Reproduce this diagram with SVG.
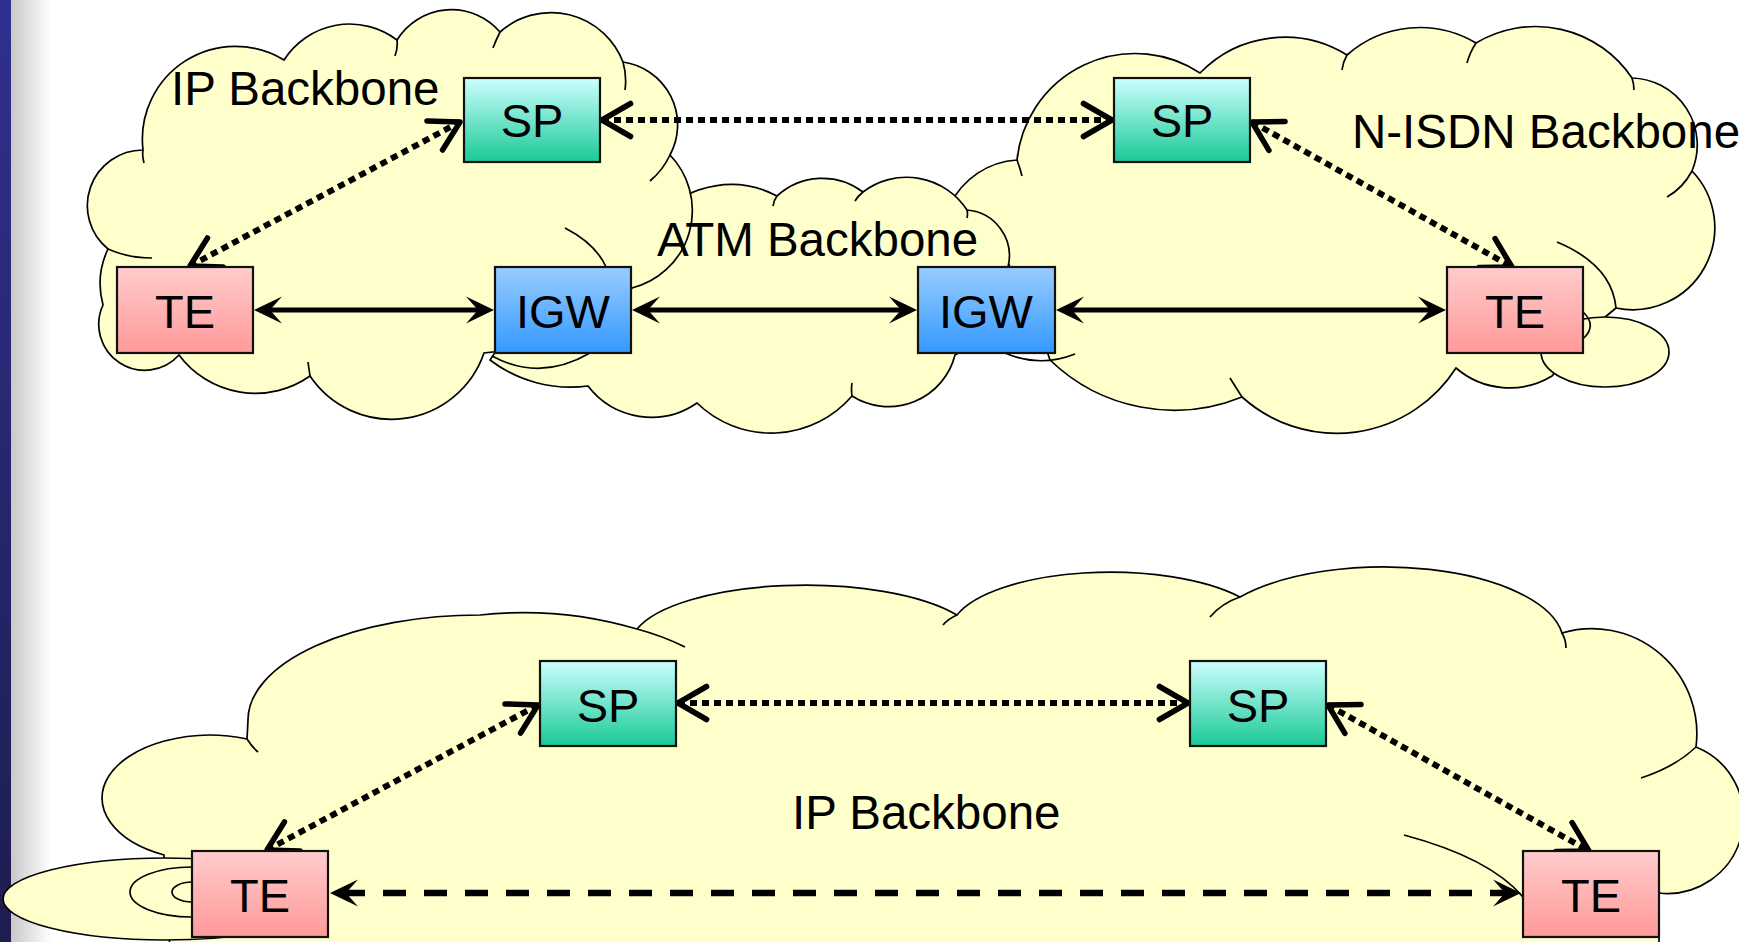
<svg xmlns="http://www.w3.org/2000/svg" width="1739" height="942" viewBox="0 0 1739 942">
<defs>
<linearGradient id="gSP" x1="0" y1="0" x2="0" y2="1"><stop offset="0" stop-color="#ccffff"/><stop offset="1" stop-color="#19c996"/></linearGradient>
<linearGradient id="gTE" x1="0" y1="0" x2="0" y2="1"><stop offset="0" stop-color="#ffcccc"/><stop offset="1" stop-color="#ff9999"/></linearGradient>
<linearGradient id="gIGW" x1="0" y1="0" x2="0" y2="1"><stop offset="0" stop-color="#99ccff"/><stop offset="1" stop-color="#3399ff"/></linearGradient>
<linearGradient id="gBar" x1="0" y1="0" x2="0" y2="1"><stop offset="0" stop-color="#30308f"/><stop offset="1" stop-color="#1d1d4f"/></linearGradient>
<linearGradient id="gShade" x1="0" y1="0" x2="1" y2="0"><stop offset="0" stop-color="#c8c8c8"/><stop offset="1" stop-color="#ffffff"/></linearGradient>
<marker id="open" viewBox="-36 -22 42 44" markerWidth="42" markerHeight="44" refX="0" refY="0" orient="auto-start-reverse" markerUnits="userSpaceOnUse"><path d="M -28.6 -16.5 L 0 0 L -28.6 16.5" fill="none" stroke="#000" stroke-width="5.5" stroke-linecap="round" stroke-linejoin="round"/></marker>
<marker id="solid" viewBox="-42 -15 44 30" markerWidth="44" markerHeight="30" refX="-12" refY="0" orient="auto-start-reverse" markerUnits="userSpaceOnUse"><path d="M 0 0 L -28 -13.5 L -16 0 L -28 13.5 Z" fill="#000"/></marker>
</defs>
<style>
.cloud{fill:#ffffcc;stroke:#000;stroke-width:1.7}
.tail{fill:none;stroke:#000;stroke-width:1.7}
.box{stroke:#111;stroke-width:2.2}
.lbl{font-family:"Liberation Sans",Arial,sans-serif;font-size:47px;fill:#000;text-anchor:middle}
.title{font-family:"Liberation Sans",Arial,sans-serif;font-size:47.5px;fill:#000}
.dot{fill:none;stroke:#000;stroke-width:6;stroke-dasharray:7 5;marker-start:url(#open);marker-end:url(#open)}
.sol{fill:none;stroke:#000;stroke-width:5;marker-start:url(#solid);marker-end:url(#solid)}
.dash{fill:none;stroke:#000;stroke-width:6.5;stroke-dasharray:23 18;marker-start:url(#solid);marker-end:url(#solid)}
</style>
<rect x="0" y="0" width="1739" height="942" fill="#ffffff"/>
<rect x="0" y="0" width="11" height="942" fill="url(#gBar)"/>
<rect x="11" y="0" width="40" height="942" fill="url(#gShade)"/>

<g id="cloud-nisdn">
<path class="cloud" d="M 950 205 A 79.5 79.5 0 0 1 1017 160 A 118.5 118.5 0 0 1 1200 73 A 118 118 0 0 1 1347 55 A 110 110 0 0 1 1476 43 A 116 116 0 0 1 1632 78 A 67 67 0 0 1 1692 171 A 82 82 0 0 1 1616 308 L 1604 318 L 1580 340 L 1552 376 A 82 82 0 0 1 1456 368 A 141.6 141.6 0 0 1 1242 397 A 179 179 0 0 1 1050 360 L 1030 300 L 985 225 Z"/>
<path class="tail" d="M 1017 160 Q 1020 168 1022 176 M 1347 55 Q 1343 62 1342 70 M 1476 43 Q 1470 52 1467 63 M 1632 78 Q 1634 84 1634 90 M 1692 171 Q 1683 188 1667 197 M 1616 308 Q 1612 265 1557 242 M 1242 397 Q 1235 386 1230 378 M 1005 353 Q 1040 368 1075 354"/>
<ellipse class="cloud" cx="1605" cy="352" rx="64" ry="35"/>
<path class="tail" d="M 1583 312 Q 1597 325 1584 338"/>
</g>

<g id="cloud-atm">
<path class="cloud" d="M 660 215 A 98 98 0 0 1 777 196 A 67 67 0 0 1 863 192 A 72 72 0 0 1 967 210 A 46 46 0 0 1 1008 267 L 1000 330 L 955 355 A 68.5 68.5 0 0 1 852 396 A 106.5 106.5 0 0 1 697 403 A 80 80 0 0 1 588 386 A 133 133 0 0 1 490 360 L 500 345 L 560 300 L 640 260 Z"/>
<path class="tail" d="M 777 196 Q 774 200 773 206 M 863 192 Q 858 196 855 201 M 967 210 Q 968 214 967 218 M 852 396 Q 851 389 852 383 M 492 356 Q 540 382 590 353"/>
</g>

<g id="cloud-ip-top">
<path class="cloud" d="M 143 150 A 93 93 0 0 1 284 60 A 78 78 0 0 1 397 40 A 64 64 0 0 1 500 32 A 77 77 0 0 1 623 62 A 63.5 63.5 0 0 1 670 155 A 80 80 0 0 1 632 288 L 600 340 L 484 353 A 98 98 0 0 1 310 376 A 95 95 0 0 1 179 355 A 46 46 0 0 1 103 305 A 81 81 0 0 1 108 249 A 55.7 55.7 0 0 1 143 150 Z"/>
<path class="tail" d="M 143 150 Q 142 156 144 163 M 397 40 Q 398 48 395 56 M 500 32 Q 496 40 493 48 M 623 62 Q 627 76 625 90 M 670 155 Q 663 170 650 181 M 565 228 Q 596 244 606 267 M 310 376 Q 309 369 308 362 M 108 249 Q 128 258 152 258"/>
</g>

<g id="cloud-ip-bottom">
<path class="cloud" d="M 164 855 A 108 63 0 0 1 108.5 776.5 A 108 63 0 0 1 247 739 L 248 720 A 232 105 0 0 1 480 615 A 400 400 0 0 1 637 629 A 175 60 0 0 1 957 615 A 160 60 0 0 1 1240 597 A 180 76 0 0 1 1562 633 A 105 105 0 0 1 1696 747 A 76 76 0 0 1 1659 893 L 1659 950 L 170 950 Z"/>
<path class="tail" d="M 247 739 Q 252 747 258 752 M 637 629 Q 663 636 685 647 M 957 615 Q 948 619 943 625 M 1210 617 Q 1222 603 1240 597 M 1562 633 Q 1566 640 1566 648 M 1696 747 Q 1675 767 1641 778 M 1404 835 Q 1490 858 1523 897"/>
<ellipse class="cloud" cx="165" cy="899" rx="162" ry="41"/>
<path class="tail" d="M 192 867 A 62 25 0 0 0 192 917 M 192 882 A 20 10 0 0 0 192 902"/>
</g>

<g id="connectors">
<path class="dot" d="M 602 120 L 1112 120"/>
<path class="dot" d="M 190 266 L 460 122"/>
<path class="dot" d="M 1252 122 L 1512 267"/>
<path class="sol" d="M 266 310 L 482 310"/>
<path class="sol" d="M 644 310 L 905 310"/>
<path class="sol" d="M 1068 310 L 1434 310"/>
<path class="dot" d="M 678 703 L 1188 703"/>
<path class="dot" d="M 267 850 L 538 705"/>
<path class="dot" d="M 1328 705 L 1589 851"/>
<path class="dash" d="M 342 893 L 1509 893"/>
</g>

<g id="sp1"><rect class="box" x="464" y="78" width="136" height="84" fill="url(#gSP)"/><text class="lbl" x="532" y="137">SP</text></g>
<g id="sp2"><rect class="box" x="1114" y="78" width="136" height="84" fill="url(#gSP)"/><text class="lbl" x="1182" y="137">SP</text></g>
<g id="te1"><rect class="box" x="117" y="267" width="136" height="86" fill="url(#gTE)"/><text class="lbl" x="185" y="328">TE</text></g>
<g id="igw1"><rect class="box" x="495" y="267" width="136" height="86" fill="url(#gIGW)"/><text class="lbl" x="563" y="328">IGW</text></g>
<g id="igw2"><rect class="box" x="918" y="267" width="137" height="86" fill="url(#gIGW)"/><text class="lbl" x="986" y="328">IGW</text></g>
<g id="te2"><rect class="box" x="1447" y="267" width="136" height="86" fill="url(#gTE)"/><text class="lbl" x="1515" y="328">TE</text></g>
<g id="sp3"><rect class="box" x="540" y="661" width="136" height="85" fill="url(#gSP)"/><text class="lbl" x="608" y="722">SP</text></g>
<g id="sp4"><rect class="box" x="1190" y="661" width="136" height="85" fill="url(#gSP)"/><text class="lbl" x="1258" y="722">SP</text></g>
<g id="te3"><rect class="box" x="192" y="851" width="136" height="86" fill="url(#gTE)"/><text class="lbl" x="260" y="912">TE</text></g>
<g id="te4"><rect class="box" x="1523" y="851" width="136" height="86" fill="url(#gTE)"/><text class="lbl" x="1591" y="912">TE</text></g>

<g id="labels">
<text class="title" x="171" y="105">IP Backbone</text>
<text class="title" x="657" y="256">ATM Backbone</text>
<text class="title" x="1352" y="148">N-ISDN Backbone</text>
<text class="title" x="792" y="829">IP Backbone</text>
</g>
</svg>
